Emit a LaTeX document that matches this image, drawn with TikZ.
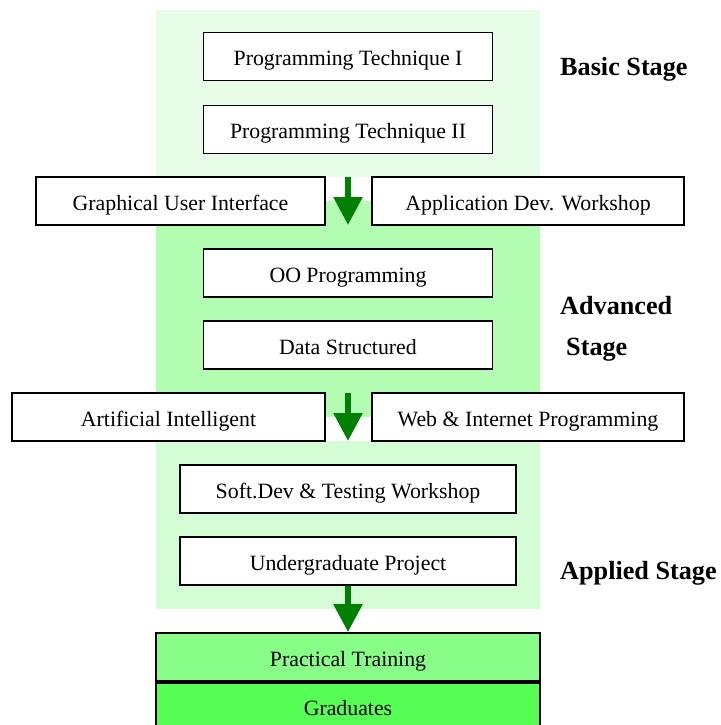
\documentclass[tikz,border=0pt]{standalone}
\usepackage{fontspec}
\setmainfont{Liberation Serif}
\usetikzlibrary{arrows.meta}
\definecolor{bgbasic}{RGB}{232,253,232}
\definecolor{bgadv}{RGB}{179,253,179}
\definecolor{bgapp}{RGB}{213,253,213}
\definecolor{ptfill}{RGB}{136,253,136}
\definecolor{gradfill}{RGB}{85,253,85}
\definecolor{arrowgreen}{RGB}{0,128,0}
\tikzset{
  course/.style={draw=black, line width=1.8bp, fill=white, inner sep=0pt,
    font=\fontsize{21.9}{24}\selectfont, text height=19bp, text depth=0bp},
  stagelabel/.style={font=\fontsize{26.3}{40}\bfseries\selectfont, align=left, inner sep=0pt, anchor=base west},
  flow/.style={draw=arrowgreen, line width=6bp, -{Triangle[length=28bp,width=28bp]}, shorten >=0pt}
}
\begin{document}
\begin{tikzpicture}[x=1bp,y=-1bp]
\useasboundingbox (0,0) rectangle (721,725);
% stage backgrounds
\fill[bgbasic] (156,10) rectangle (540,177);
\fill[bgadv] (156,201) rectangle (540,417);
\fill[bgapp] (156,441) rectangle (540,609);
% basic stage
\node[course, minimum width=289bp, minimum height=48bp] (pt1) at (348,56.5) {Programming Technique I};
\node[course, minimum width=289bp, minimum height=48bp] (pt2) at (348,129.5) {Programming Technique II};
\node[course, minimum width=289bp, minimum height=48bp] (gui) at (180.5,201) {Graphical User Interface};
\node[course, minimum width=312bp, minimum height=48bp] (adw) at (528,201) {Application Dev. Workshop};
% advanced stage
\node[course, minimum width=289bp, minimum height=48bp] (oop) at (348,273) {OO Programming};
\node[course, minimum width=289bp, minimum height=48bp] (ds) at (348,345) {Data Structured};
\node[course, minimum width=313bp, minimum height=48bp] (ai) at (168.5,417) {Artificial Intelligent};
\node[course, minimum width=312bp, minimum height=48bp] (web) at (528,417) {Web \& Internet Programming};
% applied stage
\node[course, minimum width=336bp, minimum height=48bp] (sdt) at (348,489) {Soft.Dev \& Testing Workshop};
\node[course, minimum width=336bp, minimum height=48bp] (ugp) at (348,561) {Undergraduate Project};
% outcome
\node[course, fill=ptfill, minimum width=384bp, minimum height=48bp] (ptr) at (348,657) {Practical Training};
\node[course, fill=gradfill, minimum width=384bp, minimum height=46bp, anchor=north] (grad) at (ptr.south) {Graduates};
% stage labels
\node[stagelabel] (lbasic) at (560,75.5) {Basic Stage};
\node[stagelabel] (ladv1) at (560,314) {Advanced};
\node[stagelabel] (ladv2) at (566,355) {Stage};
\node[stagelabel] (lapp) at (560,579) {Applied Stage};
% arrows
\coordinate (a1s) at (348,177);
\coordinate (a1e) at (348,225);
\coordinate (a2s) at (348,393);
\coordinate (a2e) at (348,441);
\draw[flow] (a1s) -- (a1e);
\draw[flow] (a2s) -- (a2e);
\draw[flow] (ugp.south) -- (ptr.north);
\end{tikzpicture}
\end{document}
